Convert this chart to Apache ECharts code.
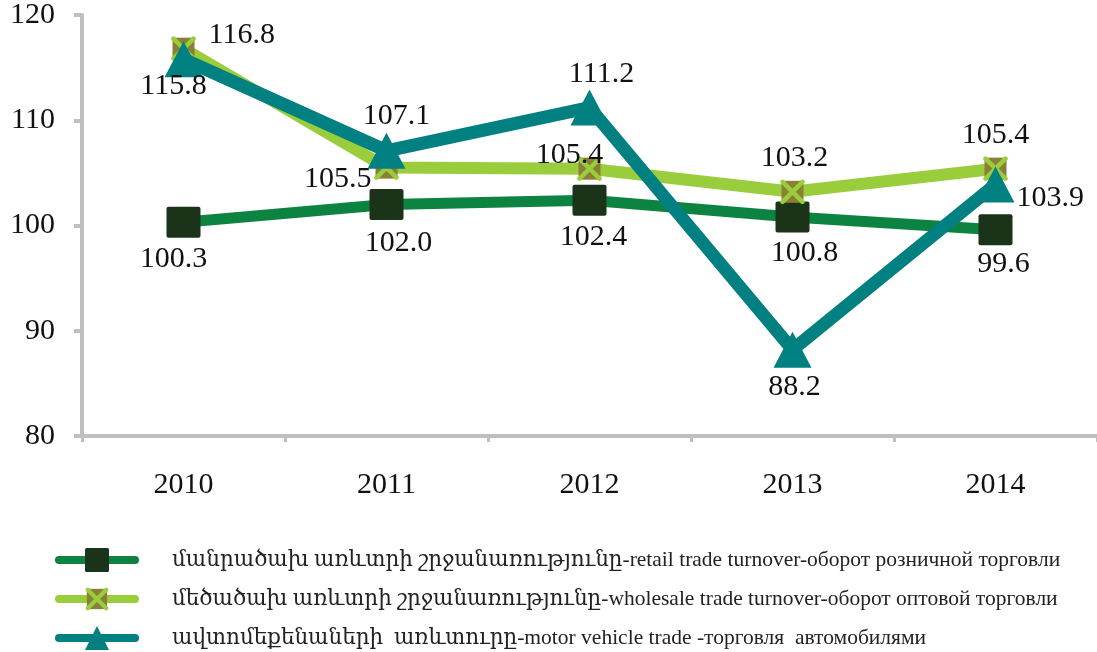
<!DOCTYPE html>
<html><head><meta charset="utf-8">
<script src="https://cdn.jsdelivr.net/npm/echarts@6/dist/echarts.min.js"></script>
<style>html,body{margin:0;padding:0;background:#fff}#c{width:1097px;height:652px}</style>
</head><body><div id="c"></div>
<script>
const categories = ['2010', '2011', '2012', '2013', '2014'];
const retail = [100.3, 102.0, 102.4, 100.8, 99.6];
const wholesale = [116.8, 105.5, 105.4, 103.2, 105.4];
const motor = [115.8, 107.1, 111.2, 88.2, 103.9];
const seriesNames = [
  'մանրածախ առևտրի շրջանառությունը-retail trade turnover-оборот розничной торговли',
  'մեծածախ առևտրի շրջանառությունը-wholesale trade turnover-оборот оптовой торговли',
  'ավտոմեքենաների  առևտուրը-motor vehicle trade -торговля  автомобилями'
];
const yTicks = [80, 90, 100, 110, 120];

// label placement per point: [position, dx, dy]
const retailLbl = [['bottom',-10,0],['bottom',12,2],['bottom',4,0],['bottom',12,0],['bottom',8,-2]];
const wholeLbl = [['right',6,-14],['left',4,12],['top',-20,20],['top',2,0],['top',0,0]];
const motorLbl = [['bottom',-10,-12],['top',10,4],['top',12,6],['bottom',2,-2],['right',-4,14]];

const FONT = '"Liberation Serif","Times New Roman","DejaVu Serif",serif';
const xSvg = 'data:image/svg+xml;utf8,' + encodeURIComponent(
  '<svg xmlns="http://www.w3.org/2000/svg" width="26" height="26" viewBox="0 0 26 26">' +
  '<rect x="2" y="2" width="22" height="22" fill="#8a7f36"/>' +
  '<path d="M3 3 L23 23 M23 3 L3 23" stroke="#9acd3c" stroke-width="4.5" stroke-linecap="round"/></svg>');
const sqPath = 'path://M2,0 H32 Q34,0 34,2 V29 Q34,31 32,31 H2 Q0,31 0,29 V2 Q0,0 2,0 Z';

function mkData(vals, lbls) {
  return vals.map((v, i) => ({
    value: v,
    label: { position: lbls[i][0], offset: [lbls[i][1], lbls[i][2]] }
  }));
}
const labelStyle = { show: true, fontFamily: FONT, fontSize: 30, color: '#111', distance: 6, formatter: p => p.value.toFixed(1) };

const chart = echarts.init(document.getElementById('c'));
chart.setOption({
  animation: false,
  textStyle: { fontFamily: FONT },
  grid: { left: 82, right: 0, top: 14, bottom: 216, containLabel: false },
  xAxis: {
    type: 'category', data: categories, boundaryGap: true,
    axisLine: { lineStyle: { color: '#bfbfbf', width: 4 } },
    axisTick: { show: true, length: 6, lineStyle: { color: '#bfbfbf', width: 3 } },
    axisLabel: { fontFamily: FONT, fontSize: 30, color: '#111', margin: 34 }
  },
  yAxis: {
    type: 'value', min: yTicks[0], max: yTicks[yTicks.length - 1], interval: 10,
    splitLine: { show: false },
    axisLine: { show: true, lineStyle: { color: '#bfbfbf', width: 4 } },
    axisTick: { show: true, length: 8, lineStyle: { color: '#bfbfbf', width: 4 } },
    axisLabel: { fontFamily: FONT, fontSize: 30, color: '#111', margin: 27 }
  },
  legend: {
    orient: 'vertical', left: 55, top: 548, padding: 0, itemWidth: 76, itemHeight: 30, itemGap: 15,
    lineStyle: { width: 8, cap: 'round' },
    textStyle: { fontFamily: FONT, fontSize: 21.5, color: '#222', padding: [0, 0, 0, 32] },
    data: seriesNames
  },
  series: [
    {
      name: seriesNames[0], type: 'line', data: mkData(retail, retailLbl), z: 2,
      lineStyle: { color: '#0d8342', width: 11 }, itemStyle: { color: '#1a3319' },
      symbol: sqPath, symbolSize: [34, 31], label: labelStyle
    },
    {
      name: seriesNames[1], type: 'line', data: mkData(wholesale, wholeLbl), z: 3,
      lineStyle: { color: '#9acd3c', width: 12 }, itemStyle: { color: '#8a7f36' },
      symbol: 'image://' + xSvg, symbolSize: 26, label: labelStyle
    },
    {
      name: seriesNames[2], type: 'line', data: mkData(motor, motorLbl), z: 4,
      lineStyle: { color: '#008080', width: 13 }, itemStyle: { color: '#008080' },
      symbol: 'triangle', symbolSize: [38, 36], label: labelStyle
    }
  ]
});
</script></body></html>
